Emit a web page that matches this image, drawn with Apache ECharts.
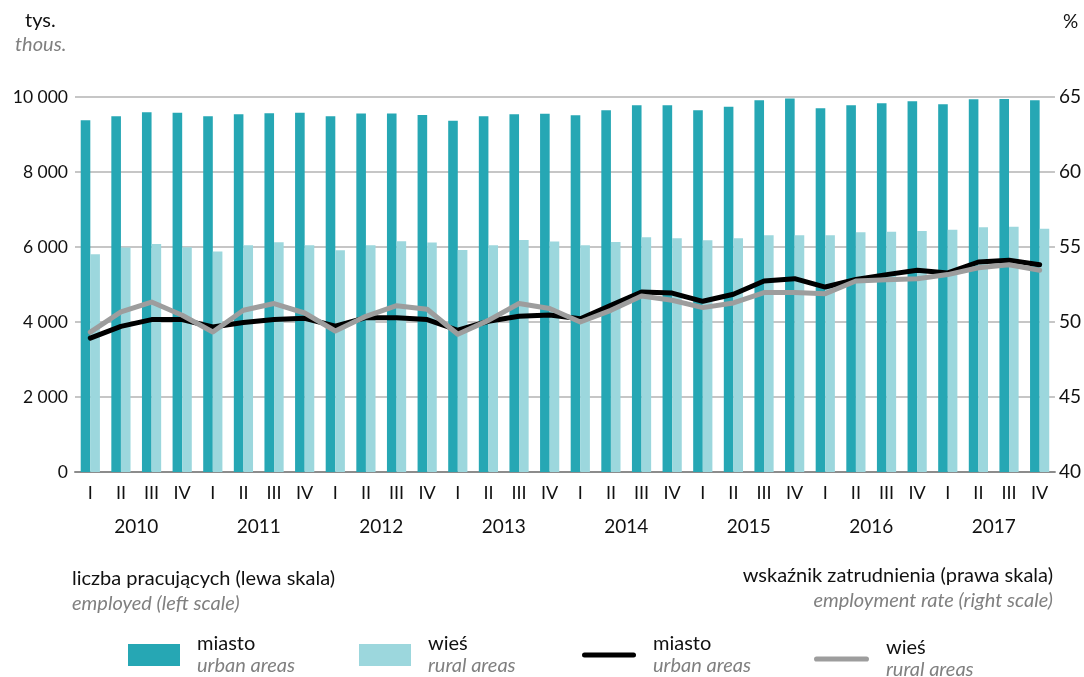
<!DOCTYPE html>
<html>
<head>
<meta charset="utf-8">
<script src="https://cdn.jsdelivr.net/npm/echarts@6/dist/echarts.min.js"></script>
<style>
  html, body { margin: 0; padding: 0; background: #fff; }
  #chart { width: 1084px; height: 677px; }
</style>
</head>
<body>
<div id="chart"></div>
<script>
// kwartały i lata
var quarters = [];
var years = ['2010', '2011', '2012', '2013', '2014', '2015', '2016', '2017'];
years.forEach(function () { quarters.push('I', 'II', 'III', 'IV'); });

// liczba pracujących, tys. (lewa skala)
var urbanEmployed = [9380, 9485, 9592, 9583, 9485, 9539, 9565, 9583,
	9485, 9557, 9557, 9521, 9370, 9485, 9539, 9552,
	9512, 9645, 9779, 9779, 9645, 9743, 9912, 9957,
	9699, 9779, 9832, 9885, 9805, 9939, 9948, 9912];
var ruralEmployed = [5805, 5990, 6080, 5995, 5877, 6045, 6125, 6045,
	5912, 6045, 6152, 6117, 5920, 6045, 6187, 6148,
	6045, 6134, 6259, 6232, 6179, 6232, 6312, 6312,
	6312, 6392, 6410, 6427, 6463, 6525, 6543, 6490];

// wskaźnik zatrudnienia, % (prawa skala)
var urbanRate = [48.93, 49.71, 50.16, 50.16, 49.67, 49.96, 50.16, 50.25,
	49.73, 50.29, 50.29, 50.16, 49.45, 50.05, 50.38, 50.46,
	50.22, 51.11, 52.0, 51.93, 51.38, 51.85, 52.73, 52.89,
	52.33, 52.83, 53.16, 53.45, 53.27, 54.0, 54.11, 53.82];
var ruralRate = [49.33, 50.67, 51.33, 50.45, 49.33, 50.78, 51.23, 50.6,
	49.4, 50.38, 51.09, 50.85, 49.18, 50.11, 51.23, 50.9,
	50.0, 50.78, 51.73, 51.45, 50.96, 51.27, 51.96, 51.96,
	51.89, 52.73, 52.82, 52.89, 53.16, 53.62, 53.82, 53.45];

var FONT = 'Lato';
var DARK = '#26a7b4';
var LIGHT = '#9cd7dd';

function thousands(v) {
	return String(v).replace(/\B(?=(\d{3})+(?!\d))/g, ' ');
}

function legendFor(name, left, top, icon, itemW, itemH, color) {
	return {
		data: [{ name: name, icon: icon, itemStyle: { color: color } }],
		left: left,
		top: top,
		padding: 0,
		itemWidth: itemW,
		itemHeight: itemH,
		selectedMode: false,
		formatter: function (n) {
			var parts = n.split('|');
			return '{a|' + parts[0] + '}\n{b|' + parts[1] + '}';
		},
		textStyle: {
			rich: {
				a: { fontFamily: FONT, fontSize: 20, color: '#111', lineHeight: 22, padding: [0, 0, 0, 12] },
				b: { fontFamily: FONT, fontSize: 20, fontStyle: 'italic', color: '#808080', lineHeight: 22, padding: [0, 0, 0, 12] }
			}
		}
	};
}

var linePath = 'path://M2.5,0 H51.5 A2.5,2.5 0 0 1 51.5,5 H2.5 A2.5,2.5 0 0 1 2.5,0 Z';

var myChart = echarts.init(document.getElementById('chart'));
var option = {
	animation: false,
	textStyle: { fontFamily: FONT },
	grid: { left: 75, right: 29, top: 97, bottom: 205 },
	legend: [
		legendFor('miasto|urban areas', 128, 634, 'rect', 52, 22, DARK),
		legendFor('wieś|rural areas', 359, 634, 'rect', 52, 22, LIGHT),
		legendFor('miasto |urban areas', 582, 634, linePath, 54, 22, '#000'),
		legendFor('wieś |rural areas', 814, 638, linePath, 55, 22, '#9d9d9d')
	],
	xAxis: [{
		type: 'category',
		data: quarters,
		axisLine: { lineStyle: { color: '#8c8c8c', width: 2 } },
		axisTick: { show: false },
		axisLabel: { fontFamily: FONT, fontSize: 18, color: '#111', margin: 12, interval: 0 }
	}, {
		type: 'category',
		data: years,
		position: 'bottom',
		offset: 33,
		axisLine: { show: false },
		axisTick: { show: false },
		axisLabel: { fontFamily: FONT, fontSize: 19, color: '#111', margin: 12 }
	}],
	yAxis: [{
		type: 'value',
		min: 0,
		max: 10000,
		interval: 2000,
		axisLine: { show: false },
		axisTick: { show: false },
		splitLine: { lineStyle: { color: '#b3b3b3', width: 1.5 } },
		axisLabel: { fontFamily: FONT, fontSize: 17.5, color: '#111', margin: 7, formatter: thousands }
	}, {
		type: 'value',
		min: 40,
		max: 65,
		interval: 5,
		position: 'right',
		axisLine: { show: false },
		axisTick: { show: false },
		splitLine: { show: false },
		axisLabel: { fontFamily: FONT, fontSize: 19, color: '#111', margin: 4 }
	}],
	series: [{
		name: 'miasto|urban areas',
		type: 'bar',
		data: urbanEmployed,
		barWidth: 9.6,
		barGap: '0%',
		itemStyle: { color: DARK }
	}, {
		name: 'wieś|rural areas',
		type: 'bar',
		data: ruralEmployed,
		barWidth: 9.6,
		itemStyle: { color: LIGHT }
	}, {
		name: 'miasto |urban areas',
		type: 'line',
		yAxisIndex: 1,
		data: urbanRate,
		symbol: 'none',
		z: 4,
		lineStyle: { color: '#000', width: 5, cap: 'round', join: 'round' },
		itemStyle: { color: '#000' }
	}, {
		name: 'wieś |rural areas',
		type: 'line',
		yAxisIndex: 1,
		data: ruralRate,
		symbol: 'none',
		z: 5,
		lineStyle: { color: '#9d9d9d', width: 5, cap: 'round', join: 'round' },
		itemStyle: { color: '#9d9d9d' }
	}],
	graphic: [
		{ type: 'text', left: 25, top: 11, style: { text: 'tys.', font: '20px ' + FONT, fill: '#111' } },
		{ type: 'text', left: 15, top: 35, style: { text: 'thous.', font: 'italic 20px ' + FONT, fill: '#808080' } },
		{ type: 'text', left: 1063, top: 12, style: { text: '%', font: '19px ' + FONT, fill: '#111' } },
		{ type: 'text', left: 72, top: 569, style: { text: 'liczba pracujących (lewa skala)', font: '20px ' + FONT, fill: '#111' } },
		{ type: 'text', left: 72, top: 594, style: { text: 'employed (left scale)', font: 'italic 20px ' + FONT, fill: '#808080' } },
		{ type: 'text', right: 31, top: 566, style: { text: 'wskaźnik zatrudnienia (prawa skala)', font: '20px ' + FONT, fill: '#111' } },
		{ type: 'text', right: 31, top: 591, style: { text: 'employment rate (right scale)', font: 'italic 20px ' + FONT, fill: '#808080' } }
	]
};
myChart.setOption(option);
</script>
</body>
</html>
